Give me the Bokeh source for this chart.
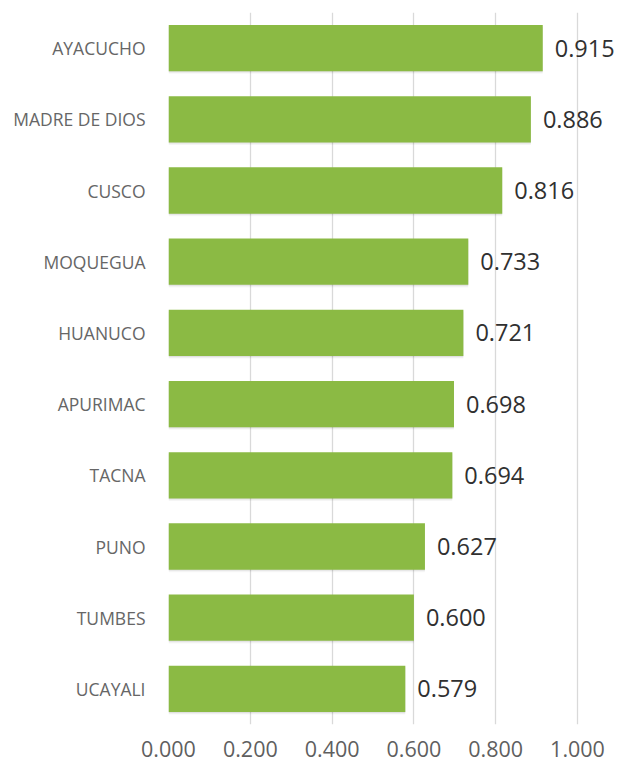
from bokeh.plotting import figure
from bokeh.models import ColumnDataSource, FactorRange, LabelSet, FixedTicker, CustomJSTickFormatter
from bokeh.core.properties import value
from bokeh.transform import dodge
from bokeh.embed import file_html
from bokeh.resources import INLINE

regions = ["AYACUCHO", "MADRE DE DIOS", "CUSCO", "MOQUEGUA", "HUANUCO",
           "APURIMAC", "TACNA", "PUNO", "TUMBES", "UCAYALI"]
values = [0.915, 0.886, 0.816, 0.733, 0.721, 0.698, 0.694, 0.627, 0.600, 0.579]
x_ticks = [0.0, 0.2, 0.4, 0.6, 0.8, 1.0]

src = ColumnDataSource(dict(
    region=regions,
    value=values,
    label=["%.3f" % v for v in values],
))

p = figure(width=622, height=762, output_backend="svg", toolbar_location=None,
           y_range=FactorRange(*regions[::-1]), x_range=(0, 1.11),
           min_border_left=168, min_border_right=0, min_border_top=12, min_border_bottom=38)
p.outline_line_color = None
p.background_fill_color = "white"
p.border_fill_color = "white"

# soft shadow
for i, a in enumerate([0.05, 0.04, 0.03]):
    p.hbar(y=dodge("region", -0.012 * (i + 1), range=p.y_range), left=0,
           right="value", height=0.65, source=src,
           fill_color="black", fill_alpha=a, line_color=None)

p.hbar(y="region", left=0, right="value", height=0.65, source=src,
       fill_color="#8BBA44", line_color=None)

labels = LabelSet(x="value", y="region", text="label", source=src,
                  x_offset=12, y_offset=0, text_baseline="middle",
                  text_font_size="23.5px", text_color="#303030",
                  text_font=value("Open Sans"))
p.add_layout(labels)

p.xaxis.ticker = FixedTicker(ticks=x_ticks)
p.xaxis.formatter = CustomJSTickFormatter(code="return tick.toFixed(3);")
p.xaxis.axis_line_color = None
p.xaxis.major_tick_line_color = None
p.xaxis.minor_tick_line_color = None
p.xaxis.major_label_text_font = "Open Sans"
p.xaxis.major_label_text_font_size = "21.5px"
p.xaxis.major_label_text_color = "#5f5f5f"
p.xaxis.major_label_standoff = 10

p.yaxis.axis_line_color = None
p.yaxis.major_tick_line_color = None
p.yaxis.minor_tick_line_color = None
p.yaxis.major_label_text_font = "Open Sans"
p.yaxis.major_label_text_font_size = "17.5px"
p.yaxis.major_label_text_color = "#666666"
p.yaxis.major_label_standoff = 17

p.ygrid.grid_line_color = None
p.xgrid.ticker = FixedTicker(ticks=x_ticks)
p.xgrid.grid_line_color = "#D9D9D9"
p.xgrid.grid_line_width = 1.3

open("out.html", "w").write(file_html(p, INLINE))
